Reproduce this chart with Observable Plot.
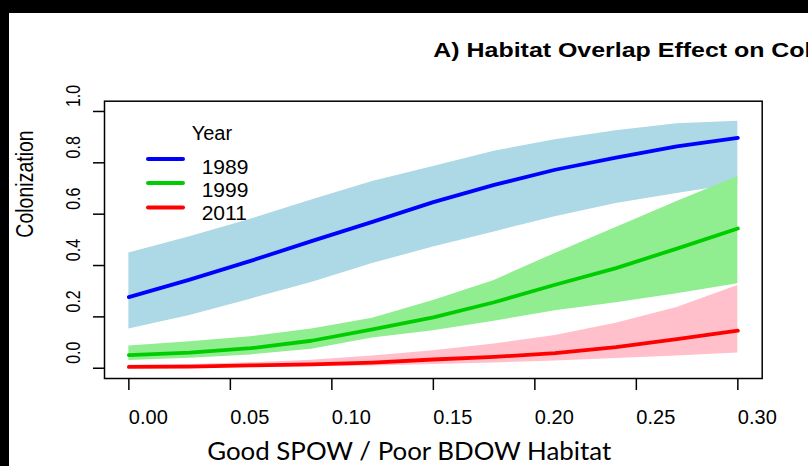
<!DOCTYPE html>
<html>
<head>
<meta charset="utf-8">
<script src="https://cdn.jsdelivr.net/npm/d3@7"></script>
<script src="https://cdn.jsdelivr.net/npm/@observablehq/plot@0.6"></script>
<style>
  html, body { margin: 0; padding: 0; background: #000; }
  #chart { position: absolute; left: 9px; top: 13px; width: 799px; height: 453px; background: #fff; overflow: hidden; }
  #chart svg { display: block; }
</style>
</head>
<body>
<div id="chart"></div>
<script>
// Proportion of good SPOW / poor BDOW habitat (x values of the fitted curves)
const habitat = [0, 0.03, 0.06, 0.09, 0.12, 0.15, 0.18, 0.21, 0.24, 0.27, 0.30];

const years = ["1989", "1999", "2011"];
const lineColors = ["#0000ff", "#00cd00", "#ff0000"];
const bandColors = ["#add8e6", "#90ee90", "#ffc0cb"];

// Predicted colonization probability with 95% interval, by year
const fit1989 = [0.277, 0.345, 0.418, 0.495, 0.570, 0.647, 0.714, 0.773, 0.820, 0.864, 0.897];
const lo1989  = [0.153, 0.205, 0.269, 0.334, 0.408, 0.472, 0.531, 0.590, 0.642, 0.681, 0.718];
const hi1989  = [0.449, 0.512, 0.580, 0.655, 0.727, 0.786, 0.845, 0.890, 0.925, 0.952, 0.962];

const fit1999 = [0.051, 0.061, 0.078, 0.107, 0.151, 0.198, 0.257, 0.325, 0.390, 0.466, 0.544];
const lo1999  = [0.030, 0.039, 0.052, 0.074, 0.118, 0.146, 0.183, 0.224, 0.255, 0.290, 0.329];
const hi1999  = [0.087, 0.103, 0.123, 0.153, 0.195, 0.264, 0.342, 0.447, 0.548, 0.649, 0.747];

const fit2011 = [0.005, 0.006, 0.011, 0.015, 0.022, 0.034, 0.044, 0.059, 0.082, 0.113, 0.146];
const lo2011  = [0.001, 0.002, 0.004, 0.006, 0.009, 0.015, 0.020, 0.028, 0.038, 0.048, 0.059];
const hi2011  = [0.012, 0.015, 0.021, 0.031, 0.048, 0.068, 0.094, 0.127, 0.175, 0.237, 0.322];

const xTicks = [0, 0.05, 0.10, 0.15, 0.20, 0.25, 0.30];
const yTicks = [0, 0.2, 0.4, 0.6, 0.8, 1.0];

const titleText = "A) Habitat Overlap Effect on Colonization";
const xTitle = "Good SPOW / Poor BDOW Habitat";
const yTitle = "Colonization";
const legendTitle = "Year";

const fits = [fit1989, fit1999, fit2011];
const los = [lo1989, lo1999, lo2011];
const his = [hi1989, hi1999, hi2011];

const series = years.map((year, k) =>
  habitat.map((x, i) => ({year, x, fit: fits[k][i], lo: los[k][i], hi: his[k][i]}))
);

const W = 799, H = 453;
const mL = 95, mR = 46.3, mT = 87.7, mB = 88;
const fmtY = d => d.toFixed(1);
const sansFont = "'Liberation Sans', Arial, sans-serif";

const plot = Plot.plot({
  width: W,
  height: H,
  marginLeft: mL,
  marginRight: mR,
  marginTop: mT,
  marginBottom: mB,
  style: {background: "white", fontFamily: sansFont, color: "black"},
  x: {domain: [-0.012, 0.312]},
  y: {domain: [-0.04, 1.04]},
  marks: [
    // confidence bands
    ...series.map((s, k) => Plot.areaY(s, {x: "x", y1: "lo", y2: "hi", fill: bandColors[k]})),
    // fitted curves
    ...series.map((s, k) => Plot.lineY(s, {x: "x", y: "fit", stroke: lineColors[k], strokeWidth: 3.8,
      strokeLinecap: "round", strokeLinejoin: "round"})),
    Plot.frame({stroke: "black", strokeWidth: 1.5}),
    Plot.axisX({ticks: xTicks, tickSize: 12, tickPadding: 19, tickFormat: d3.format(".2f"),
      textAnchor: "start", fontSize: 20, strokeWidth: 1.5, label: null}),
    Plot.axisY({ticks: yTicks, tickSize: 11, tickFormat: () => "", strokeWidth: 1.5, label: null}),
    Plot.text([xTitle], {frameAnchor: "bottom-left", dx: 197.7 - mL, dy: 438.1 - (H - mB),
      textAnchor: "start", lineAnchor: "middle", fontFamily: "Lato, 'Open Sans', sans-serif", fontSize: 25.5})
  ]
});

document.getElementById("chart").appendChild(plot);

const svg = d3.select(plot);
const yScale = plot.scale("y");

// rotated, slightly widened y tick labels, placed from the y scale
const yLabels = svg.append("g")
  .attr("font-family", sansFont).attr("font-size", 16).attr("text-anchor", "middle").attr("fill", "black");
yTicks.forEach(v => {
  yLabels.append("text")
    .attr("transform", `translate(63.5,${yScale.apply(v) - 15}) rotate(-90) scale(1,1.3)`)
    .attr("dy", "0.36em")
    .text(fmtY(v));
});

// y axis title
svg.append("text")
  .attr("font-family", sansFont).attr("font-size", 19.5).attr("text-anchor", "middle").attr("fill", "black")
  .attr("transform", "translate(15,171) rotate(-90) scale(1,1.22)")
  .attr("dy", "0.36em")
  .text(yTitle);

// main title (runs past the right edge of the panel)
svg.append("text")
  .attr("font-family", sansFont).attr("font-size", 19.5).attr("font-weight", "bold")
  .attr("text-anchor", "start").attr("fill", "black")
  .attr("transform", "translate(424.3,44) scale(1.28,1)")
  .text(titleText);

svg.selectAll("text").filter(function () { return this.textContent === xTitle; })
  .attr("textLength", 404)
  .attr("lengthAdjust", "spacingAndGlyphs");

// legend for the three survey years
const legend = svg.append("g")
  .attr("font-family", sansFont)
  .attr("text-anchor", "start");
legend.append("text").attr("x", 182.7).attr("y", 127).attr("font-size", 20).attr("fill", "black").text(legendTitle);
const rowLine = [146, 170, 194.5];
const rowText = [161.3, 184.3, 207];
years.forEach((year, k) => {
  legend.append("line")
    .attr("x1", 139).attr("x2", 174).attr("y1", rowLine[k]).attr("y2", rowLine[k])
    .attr("stroke", lineColors[k]).attr("stroke-width", 4).attr("stroke-linecap", "round");
  legend.append("text").attr("x", 192.7).attr("y", rowText[k]).attr("font-size", 21)
    .attr("fill", "black").text(year);
});
</script>
</body>
</html>
